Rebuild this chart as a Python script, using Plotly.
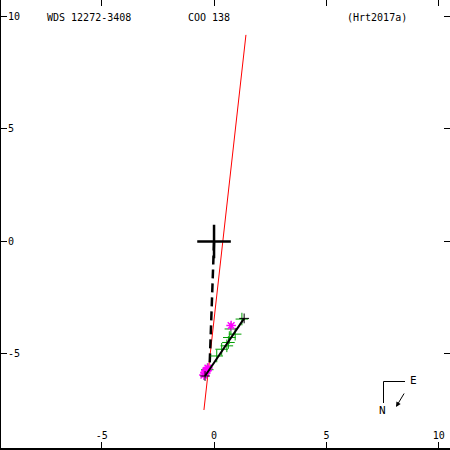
import plotly.graph_objects as go

# ---- data (arcsec) ----
orbit_x = [-0.40, 1.34]
orbit_y = [-5.98, -3.42]

node_line_x = [1.42, -0.45]
node_line_y = [9.18, -7.49]

periastron_x = [0.0, -0.20]
periastron_y = [0.0, -5.62]

green_x = [1.24, 0.94, 0.75, 0.68, 0.64, 0.57, 0.34, 0.12, -0.30]
green_y = [-3.45, -4.12, -3.89, -4.27, -4.49, -4.64, -4.79, -5.09, -5.70]

magenta_x = [0.76, -0.27, -0.31, -0.36, -0.40, -0.45]
magenta_y = [-3.74, -5.63, -5.72, -5.76, -5.85, -5.94]

primary_x = [0.0]
primary_y = [0.0]

tick_vals = [-5, 0, 5, 10]
tick_text = ["-5", "0", "5", "10"]

title_left = "WDS 12272-3408"
title_mid = "COO 138"
title_right = "(Hrt2017a)"

FONT = "DejaVu Sans Mono"
XR = [-9.48, 10.50]
YR = [-9.18, 10.73]

fig = go.Figure()

fig.add_trace(go.Scatter(x=node_line_x, y=node_line_y, mode="lines",
                         line=dict(color="red", width=1), hoverinfo="skip"))
fig.add_trace(go.Scatter(x=periastron_x, y=periastron_y, mode="lines",
                         line=dict(color="black", width=2.5, dash="9px,5px"), hoverinfo="skip"))
fig.add_trace(go.Scatter(x=green_x, y=green_y, mode="markers",
                         marker=dict(symbol="cross-thin-open", size=9, color="#00a000",
                                     line=dict(color="#00a000", width=1)), hoverinfo="skip"))
fig.add_trace(go.Scatter(x=magenta_x, y=magenta_y, mode="markers",
                         marker=dict(symbol="asterisk-open", size=8, color="#ff00ff",
                                     line=dict(color="#ff00ff", width=1.5)), hoverinfo="skip"))
fig.add_trace(go.Scatter(x=orbit_x, y=orbit_y, mode="lines+markers",
                         line=dict(color="black", width=2),
                         marker=dict(symbol="cross-thin-open", size=7, color="black",
                                     line=dict(color="black", width=1)), hoverinfo="skip"))
fig.add_trace(go.Scatter(x=primary_x, y=primary_y, mode="markers",
                         marker=dict(symbol="cross-thin-open", size=24, color="black",
                                     line=dict(color="black", width=2.5)), hoverinfo="skip"))
# invisible trace to activate the mirrored tick axes (top / right)
fig.add_trace(go.Scatter(x=[XR[0]], y=[YR[0]], xaxis="x2", yaxis="y2", mode="markers",
                         marker=dict(opacity=0), hoverinfo="skip"))

W, H = 450, 450
ML, MB = 1, 2


def px(x):
    return (x - ML) / (W - ML)


def py(y):
    return (H - MB - y) / (H - MB)


# compass
fig.add_shape(type="line", xref="paper", yref="paper",
              x0=px(383.5), y0=py(381.5), x1=px(405), y1=py(381.5),
              line=dict(color="black", width=1))
fig.add_shape(type="line", xref="paper", yref="paper",
              x0=px(383.5), y0=py(381.5), x1=px(383.5), y1=py(403),
              line=dict(color="black", width=1))
fig.add_annotation(xref="paper", yref="paper", x=px(413), y=py(380.5), text="E",
                   xanchor="center", yanchor="middle",
                   showarrow=False, font=dict(family=FONT, size=11, color="black"))
fig.add_annotation(xref="paper", yref="paper", x=px(382.5), y=py(410.5), text="N",
                   xanchor="center", yanchor="middle",
                   showarrow=False, font=dict(family=FONT, size=11, color="black"))
fig.add_annotation(xref="paper", yref="paper", x=px(396), y=py(407), text="",
                   showarrow=True, ax=9, ay=-15, arrowhead=2, arrowsize=1,
                   arrowwidth=1, arrowcolor="black")

# header texts
for txt, x0 in [(title_left, 45), (title_mid, 186), (title_right, 345)]:
    fig.add_annotation(xref="paper", yref="paper", x=px(x0), y=py(17),
                       xanchor="left", yanchor="middle", text=txt, showarrow=False,
                       font=dict(family=FONT, size=10, color="black"))

axis_common = dict(
    showgrid=False, zeroline=False, ticks="inside", ticklen=6, tickwidth=1,
    tickcolor="black", tickvals=tick_vals, ticktext=tick_text,
    ticklabelposition="inside",
    tickfont=dict(family=FONT, size=10, color="black"), fixedrange=True,
)

fig.update_layout(
    width=W, height=H,
    margin=dict(l=ML, r=0, t=0, b=MB, pad=0),
    paper_bgcolor="white", plot_bgcolor="white",
    showlegend=False,
    xaxis=dict(range=XR, showline=True, linecolor="black", linewidth=2, **axis_common),
    yaxis=dict(range=YR, showline=True, linecolor="black", linewidth=2, **axis_common),
    xaxis2=dict(range=XR, overlaying="x", side="top", anchor="y2", showline=False,
                showticklabels=False, **axis_common),
    yaxis2=dict(range=YR, overlaying="y", side="right", anchor="x2", showline=False,
                showticklabels=False, **axis_common),
)

fig.write_html("out.html", config={"displayModeBar": False},
               post_script="document.body.style.margin='0';document.body.style.overflow='hidden';")
